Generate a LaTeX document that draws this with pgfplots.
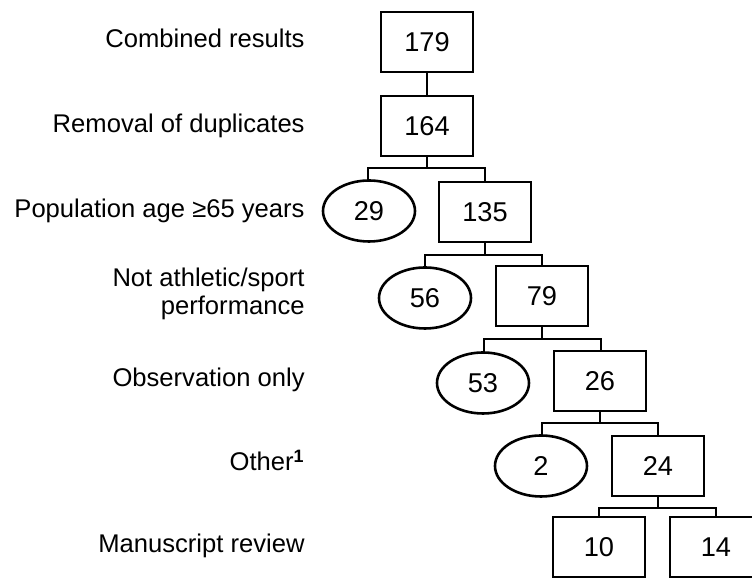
\documentclass[border=0pt]{standalone}
\usepackage{fontspec}
\setmainfont{Liberation Sans}
\usepackage{pgfplots}
\pgfplotsset{compat=1.18}
\usetikzlibrary{shapes.geometric}
\newcommand{\lblfont}{\fontsize{12.8}{15}\selectfont}
\newcommand{\numfont}{\fontsize{13.6}{16}\selectfont}
\begin{document}
\begin{tikzpicture}
\begin{axis}[
  width=376pt, height=290.5pt, scale only axis,
  xmin=0, xmax=752, ymin=0, ymax=581, y dir=reverse,
  hide axis, clip=false,
]
% connectors
\addplot[black, line width=1.2pt, mark=none] coordinates {(427,72) (427,97)};
\addplot[black, line width=1.2pt, mark=none] coordinates {(427,156) (427,168)};
\addplot[black, line width=1.2pt, mark=none] coordinates {(368,182) (368,168) (485,168) (485,183)};
\addplot[black, line width=1.2pt, mark=none] coordinates {(485,242) (485,255)};
\addplot[black, line width=1.2pt, mark=none] coordinates {(425,268) (425,255) (542,255) (542,266)};
\addplot[black, line width=1.2pt, mark=none] coordinates {(542,326) (542,339)};
\addplot[black, line width=1.2pt, mark=none] coordinates {(484,353) (484,339) (601,339) (601,352)};
\addplot[black, line width=1.2pt, mark=none] coordinates {(600,410) (600,423)};
\addplot[black, line width=1.2pt, mark=none] coordinates {(542,436) (542,423) (658,423) (658,437)};
\addplot[black, line width=1.2pt, mark=none] coordinates {(658,496) (658,508)};
\addplot[black, line width=1.2pt, mark=none] coordinates {(599,517) (599,508) (716,508) (716,517)};
% boxes
\addplot[only marks, mark=none, point meta=explicit symbolic, nodes near coords,
  nodes near coords style={anchor=center, draw=black, fill=white, line width=1.3pt, rectangle,
    minimum width=46pt, minimum height=30pt, inner sep=0pt, font=\numfont}]
  coordinates {(427,42)[179] (427,126)[164] (485,212)[135] (542,296)[79]
    (600,381)[26] (658,466)[24] (599,547)[10] (716,547)[14]};
% ellipses
\addplot[only marks, mark=none, point meta=explicit symbolic, nodes near coords,
  nodes near coords style={anchor=center, draw=black, fill=white, line width=1.3pt, ellipse,
    minimum width=46pt, minimum height=30.5pt, inner sep=0pt, font=\numfont}]
  coordinates {(369,211)[29] (425,298)[56] (483,383)[53] (541,466)[2]};
% row labels
\addplot[only marks, mark=none, point meta=explicit symbolic, nodes near coords,
  nodes near coords style={anchor=base east, inner sep=0pt, font=\lblfont}]
  coordinates {(305,48)[Combined results] (305,133)[Removal of duplicates]
    (305,218)[Population age ≥65 years] (305,287)[Not athletic/sport]
    (305,315)[performance] (305,387)[Observation only]
    (305,471)[Other\textsuperscript{\bfseries 1}] (305,553)[Manuscript review]};
\end{axis}
\pgfresetboundingbox
\path (0,0) rectangle (376pt,290.5pt);
\end{tikzpicture}
\end{document}
